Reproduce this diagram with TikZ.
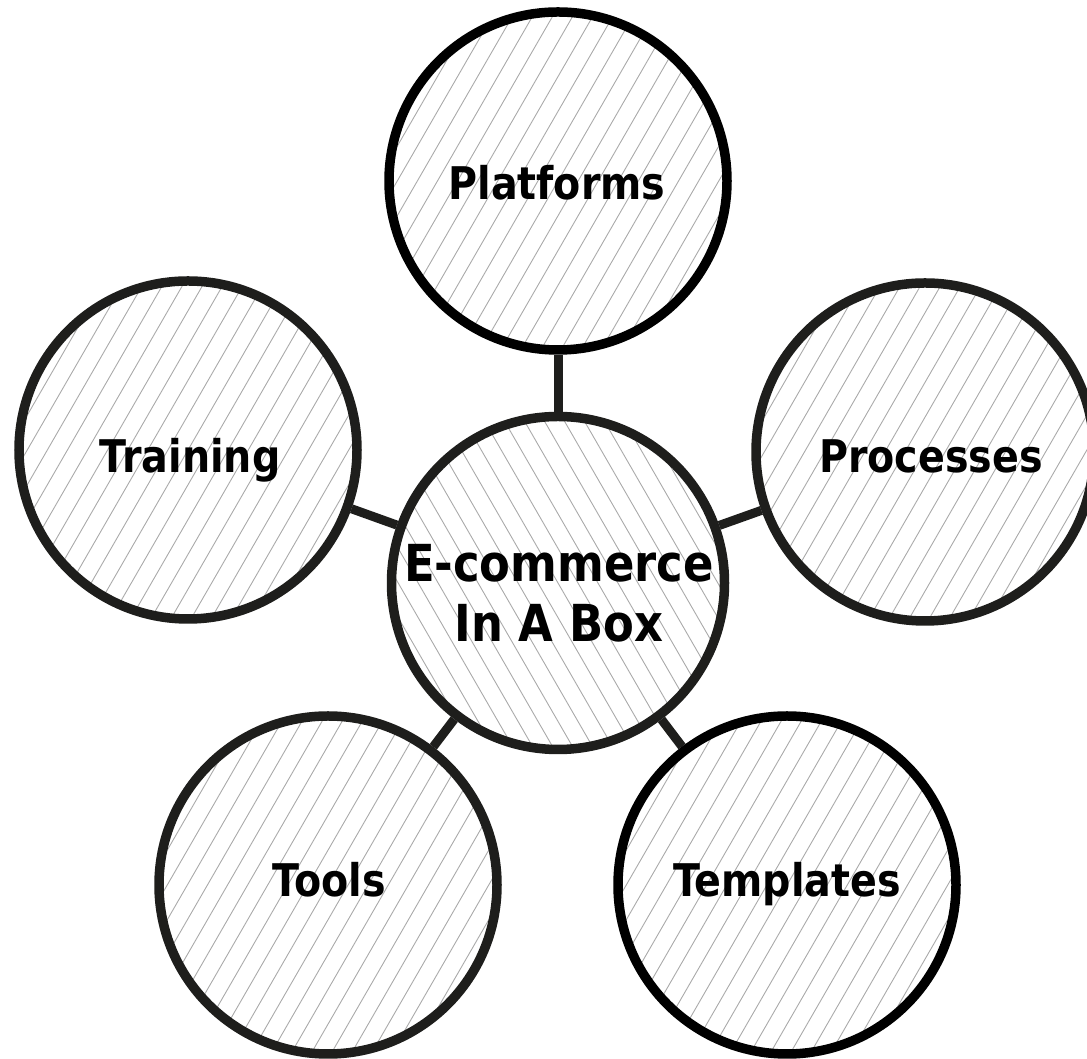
\documentclass[tikz,border=0pt]{standalone}
\usepackage{fontspec}
\newfontfamily\lblfont{DejaVu Sans}[FakeStretch=0.88]
\usetikzlibrary{backgrounds}
\definecolor{ringdark}{RGB}{30,30,28}
\definecolor{hatchgray}{RGB}{170,170,170}
\tikzset{
  hatchline/.style={draw=hatchgray, line width=0.9pt},
  bubble/.style={circle, draw=ringdark, line width=9.5pt,
    minimum size=338pt, inner sep=0pt},
  hub/.style={bubble, minimum size=333pt},
  lbl/.style={anchor=base, inner sep=0pt, align=center,
    font=\lblfont\bfseries\fontsize{45pt}{54pt}\selectfont},
  hublbl/.style={lbl, font=\lblfont\bfseries\fontsize{51pt}{60pt}\selectfont},
  link/.style={draw=ringdark, line width=9pt}
}
\newcommand{\hatchin}[3]{%
  \begin{scope}
    \clip (#1.center) circle (166pt);
    \foreach \k in {-12,...,12}{
      \draw[hatchline, shift={(#1.center)}, rotate=#2]
        (-220pt,\k*#3 pt) -- (220pt,\k*#3 pt);
    }
  \end{scope}}
\begin{document}
\begin{tikzpicture}[x=1pt, y=1pt]
\useasboundingbox (0,0) rectangle (1087,1059);
\node[hub] (hub) at (558,476) {};
\node[bubble, draw=black] (plat) at (558,878) {};
\node[bubble] (train) at (188,609) {};
\node[bubble] (proc) at (925,607) {};
\node[bubble] (tools) at (328,174) {};
\node[bubble, draw=black] (templ) at (787,174) {};
\begin{scope}[on background layer]
  \hatchin{hub}{-60}{17.3}
  \hatchin{plat}{60}{17.4}
  \hatchin{train}{60}{17.4}
  \hatchin{proc}{60}{17.4}
  \hatchin{tools}{60}{17.4}
  \hatchin{templ}{60}{17.4}
  \draw[link] (hub) -- (plat);
  \draw[link] (hub) -- (train);
  \draw[link] (hub) -- (proc);
  \draw[link] (hub) -- (tools);
  \draw[link] (hub) -- (templ);
\end{scope}
\node[hublbl] (hubtext) at (559,417) {E-commerce\\In A Box};
\node[lbl] (plattext) at (557,859) {Platforms};
\node[lbl] (traintext) at (190,586) {Training};
\node[lbl] (proctext) at (931,586) {Processes};
\node[lbl] (toolstext) at (329,162) {Tools};
\node[lbl] (templtext) at (787,162) {Templates};
\end{tikzpicture}
\end{document}
